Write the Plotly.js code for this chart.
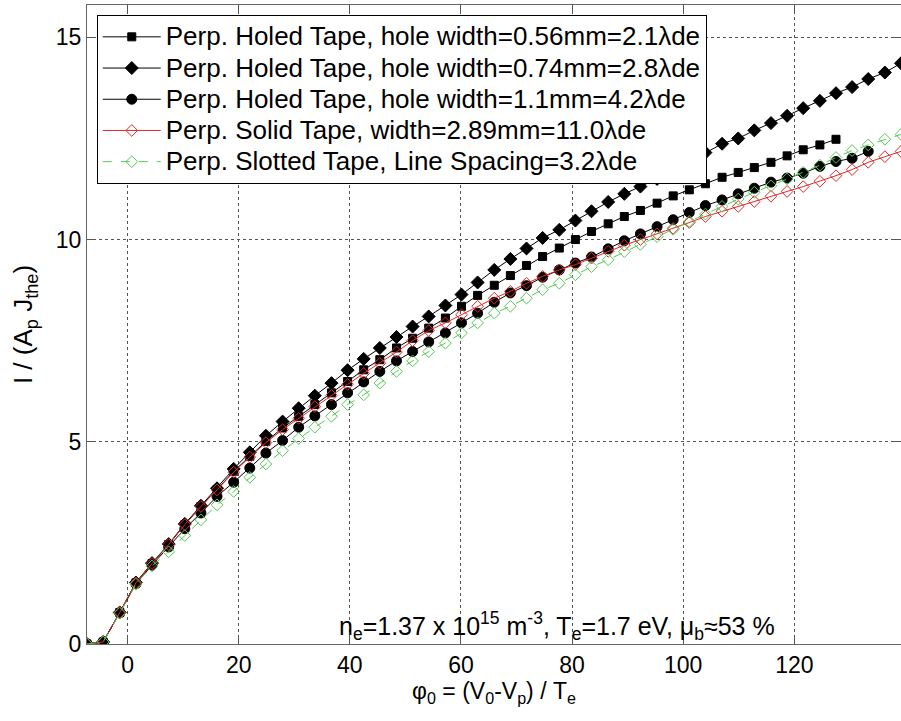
<!DOCTYPE html>
<html>
<head>
<meta charset="utf-8">
<script src="https://cdn.plot.ly/plotly-3.0.1.min.js"></script>
<style>
html,body{margin:0;padding:0;background:#fff;}
#chart{width:901px;height:721px;}
.legendtext{font-size:26px !important;}
</style>
</head>
<body>
<div id="chart"></div>
<script>
// normalized probe potential phi0 = (V0-Vp)/Te
const phi = [-7.3, -4.4, -1.4, 1.5, 4.4, 7.4, 10.3, 13.2, 16.1, 19.1,
  22.0, 24.9, 27.9, 30.8, 33.7, 36.7, 39.6, 42.5, 45.4, 48.4,
  51.3, 54.2, 57.2, 60.1, 63.0, 66.0, 68.9, 71.8, 74.7, 77.7,
  80.6, 83.5, 86.5, 89.4, 92.3, 95.3, 98.2, 101.1, 104.0, 107.0,
  109.9, 112.8, 115.8, 118.7, 121.6, 124.6, 127.5, 130.4, 133.3, 136.3, 139.2];

// Perp. Holed Tape, hole width=0.56mm (squares)
const holed056 = [0, 0.05, 0.78, 1.51, 1.99, 2.46, 2.95, 3.40, 3.82, 4.27,
  4.64, 5.01, 5.34, 5.63, 5.92, 6.21, 6.49, 6.78, 7.03, 7.32,
  7.56, 7.81, 8.06, 8.35, 8.62, 8.87, 9.11, 9.36, 9.58, 9.79,
  10.00, 10.20, 10.39, 10.57, 10.72, 10.90, 11.08, 11.23, 11.38, 11.54,
  11.66, 11.78, 11.91, 12.07, 12.22, 12.34, 12.48];

// Perp. Holed Tape, hole width=0.74mm (diamonds)
const holed074 = [0, 0.05, 0.78, 1.52, 2.00, 2.47, 2.97, 3.42, 3.85, 4.33,
  4.74, 5.15, 5.50, 5.83, 6.14, 6.45, 6.77, 7.05, 7.32, 7.59,
  7.85, 8.10, 8.37, 8.64, 8.94, 9.25, 9.52, 9.78, 10.04, 10.24,
  10.47, 10.70, 10.93, 11.13, 11.31, 11.50, 11.70, 11.92, 12.15, 12.37,
  12.50, 12.70, 12.88, 13.06, 13.25, 13.43, 13.62, 13.77, 13.97, 14.13, 14.36];

// Perp. Holed Tape, hole width=1.1mm (circles)
const holed11 = [0, 0.05, 0.77, 1.49, 1.95, 2.40, 2.85, 3.24, 3.65, 4.00,
  4.35, 4.72, 5.03, 5.36, 5.64, 5.92, 6.21, 6.48, 6.74, 7.00,
  7.23, 7.47, 7.69, 7.94, 8.18, 8.45, 8.68, 8.86, 9.07, 9.25,
  9.42, 9.57, 9.77, 9.97, 10.14, 10.32, 10.49, 10.67, 10.84, 10.98,
  11.13, 11.27, 11.42, 11.52, 11.64, 11.81, 11.93, 12.01, 12.18];

// Perp. Solid Tape, width=2.89mm (red open diamonds)
const solid = [0, 0.05, 0.78, 1.51, 1.99, 2.46, 2.95, 3.40, 3.81, 4.25,
  4.62, 4.98, 5.30, 5.58, 5.87, 6.15, 6.42, 6.69, 6.94, 7.22,
  7.50, 7.75, 7.94, 8.14, 8.35, 8.55, 8.72, 8.92, 9.09, 9.25,
  9.38, 9.54, 9.71, 9.86, 10.00, 10.14, 10.28, 10.42, 10.57, 10.70,
  10.82, 10.94, 11.07, 11.19, 11.31, 11.44, 11.58, 11.73, 11.91, 12.05, 12.18];

// Perp. Slotted Tape, Line Spacing=3.2 lambda_de (green open diamonds, dashed)
const slotted = [0, 0.05, 0.76, 1.48, 1.93, 2.28, 2.68, 3.07, 3.44, 3.77,
  4.12, 4.45, 4.78, 5.08, 5.36, 5.63, 5.92, 6.16, 6.45, 6.74,
  7.00, 7.23, 7.44, 7.69, 7.94, 8.18, 8.35, 8.55, 8.76, 8.92,
  9.13, 9.33, 9.50, 9.70, 9.88, 10.07, 10.25, 10.45, 10.63, 10.82,
  11.00, 11.17, 11.33, 11.50, 11.66, 11.84, 12.03, 12.20, 12.34, 12.48, 12.60];

const names = [
  'Perp. Holed Tape, hole width=0.56mm=2.1λde',
  'Perp. Holed Tape, hole width=0.74mm=2.8λde',
  'Perp. Holed Tape, hole width=1.1mm=4.2λde',
  'Perp. Solid Tape, width=2.89mm=11.0λde',
  'Perp. Slotted Tape, Line Spacing=3.2λde'
];

const FONT = 'Liberation Sans, Arial, Helvetica, sans-serif';

function tr(y, name, symbol, size, color, dash) {
  return {
    x: phi.slice(0, y.length), y: y, name: name, type: 'scatter', mode: 'lines+markers',
    line: {color: color, width: 1, dash: dash},
    marker: {symbol: symbol, size: size, color: color, line: {color: color, width: 1}},
    cliponaxis: true
  };
}

const data = [
  tr(holed056, names[0], 'square', 8, '#000000', 'solid'),
  tr(holed074, names[1], 'diamond', 10, '#000000', 'solid'),
  tr(holed11, names[2], 'circle', 10, '#000000', 'solid'),
  tr(solid, names[3], 'diamond-open', 9, '#e02828', 'solid'),
  tr(slotted, names[4], 'diamond-open', 9, '#55c855', 'dash')
];

const layout = {
  width: 901, height: 721,
  margin: {l: 87, r: 0, t: 5, b: 77},
  paper_bgcolor: '#ffffff', plot_bgcolor: '#ffffff',
  font: {family: FONT, color: '#000', size: 22},
  showlegend: true,
  legend: {
    x: 0.012, y: 0.984, xanchor: 'left', yanchor: 'top',
    bgcolor: '#ffffff', bordercolor: '#000', borderwidth: 1,
    font: {family: FONT, size: 21.7, color: '#000'},
    tracegroupgap: 0, itemwidth: 58
  },
  xaxis: {
    range: [-7.3, 139.2], tick0: 0, dtick: 20, tickmode: 'linear',
    ticks: 'inside', ticklen: 8, tickcolor: '#555', mirror: 'ticks',
    showline: true, linecolor: '#666', linewidth: 1,
    showgrid: true, gridcolor: '#555', griddash: 'dot', gridwidth: 1,
    zeroline: false, tickfont: {size: 23},
    title: {text: 'φ<sub>0</sub> = (V<sub>0</sub>-V<sub>p</sub>) / T<sub>e</sub>', font: {size: 23}, standoff: 6}
  },
  yaxis: {
    range: [0, 15.8], tick0: 0, dtick: 5, tickmode: 'linear',
    ticks: 'inside', ticklen: 8, tickcolor: '#555', mirror: 'ticks',
    showline: true, linecolor: '#666', linewidth: 1,
    showgrid: true, gridcolor: '#555', griddash: 'dot', gridwidth: 1,
    zeroline: false, tickfont: {size: 23},
    title: {text: 'I / (A<sub>p</sub> J<sub>the</sub>)', font: {size: 26}, standoff: 15}
  },
  annotations: [{
    xref: 'paper', yref: 'paper', x: 0.577, y: -0.003, xanchor: 'center', yanchor: 'bottom',
    showarrow: false,
    text: 'n<sub>e</sub>=1.37 x 10<sup>15</sup> m<sup>-3</sup>, T<sub>e</sub>=1.7 eV, μ<sub>b</sub>≈53 %',
    font: {family: FONT, size: 25, color: '#000'}
  }]
};

Plotly.newPlot('chart', data, layout, {displayModeBar: false, staticPlot: true});
</script>
</body>
</html>
